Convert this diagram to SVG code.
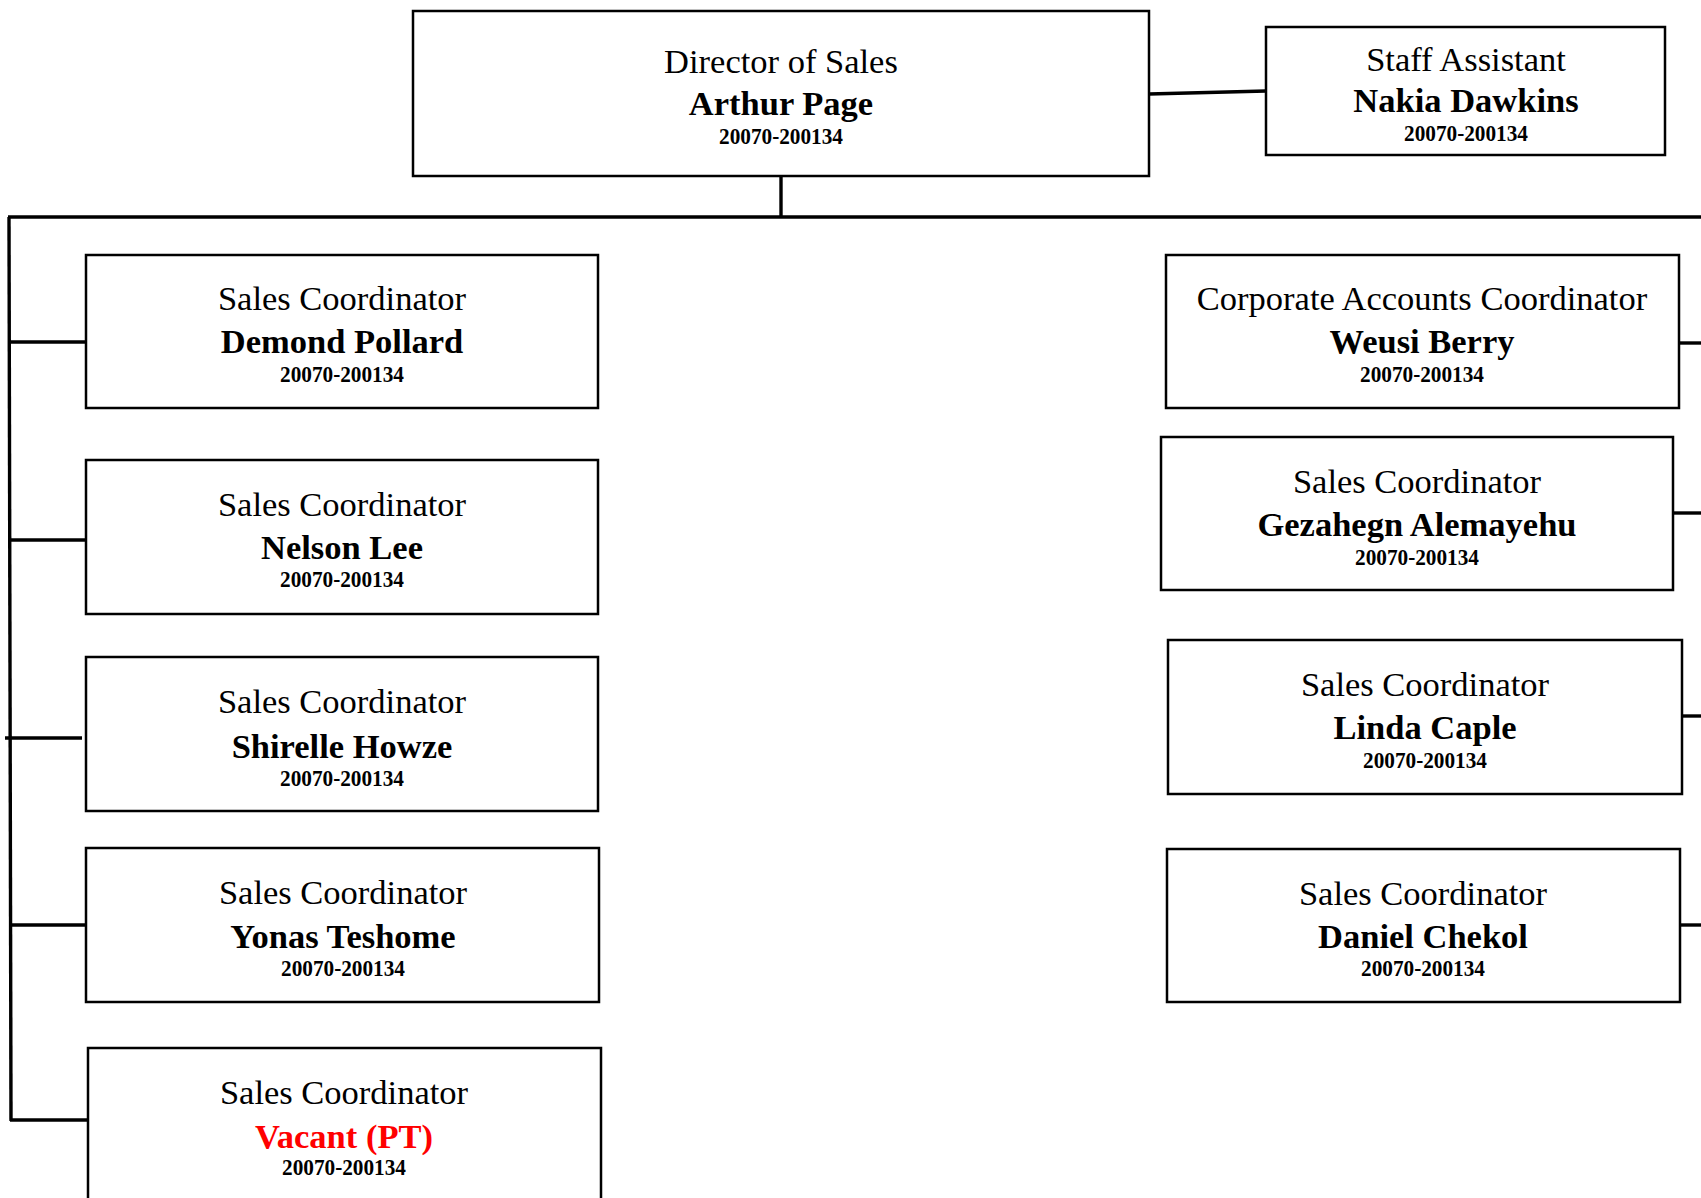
<svg xmlns="http://www.w3.org/2000/svg" width="1701" height="1198" viewBox="0 0 1701 1198">
<style>
.box{fill:#fff;stroke:#000;stroke-width:2.5}
.con{stroke:#000;stroke-width:3.4;fill:none}
text{font-family:"Liberation Serif","Times New Roman",serif;text-anchor:middle;fill:#000}
.t{font-size:34.5px}
.n{font-size:34.5px;font-weight:bold}
.id{font-size:24px;font-weight:bold}
.red{fill:#f00}
</style>
<rect width="1701" height="1198" fill="#fff"/>
<g id="connectors">
<line class="con" x1="1149" y1="94" x2="1266" y2="91"/>
<line class="con" x1="781" y1="176" x2="781" y2="217"/>
<line class="con" x1="8" y1="217" x2="1701" y2="217"/>
<line class="con" x1="9" y1="217" x2="11" y2="1121"/>
<line class="con" x1="9" y1="342" x2="86" y2="342"/>
<line class="con" x1="9" y1="540" x2="86" y2="540"/>
<line class="con" x1="5" y1="738" x2="82" y2="738"/>
<line class="con" x1="10" y1="925" x2="86" y2="925"/>
<line class="con" x1="10" y1="1120" x2="88" y2="1120"/>
<line class="con" x1="1679" y1="343" x2="1701" y2="343"/>
<line class="con" x1="1673" y1="513" x2="1701" y2="513"/>
<line class="con" x1="1682" y1="716" x2="1701" y2="716"/>
<line class="con" x1="1680" y1="925" x2="1701" y2="925"/>
</g>
<g id="director">
<rect class="box" x="413" y="11" width="736" height="165"/>
<text class="t" x="781" y="73">Director of Sales</text>
<text class="n" x="781" y="115">Arthur Page</text>
<text class="id" x="781" y="144" textLength="124" lengthAdjust="spacingAndGlyphs">20070-200134</text>
</g>
<g id="staff-assistant">
<rect class="box" x="1266" y="27" width="399" height="128"/>
<text class="t" x="1466" y="71">Staff Assistant</text>
<text class="n" x="1466" y="112">Nakia Dawkins</text>
<text class="id" x="1466" y="141" textLength="124" lengthAdjust="spacingAndGlyphs">20070-200134</text>
</g>
<g id="demond-pollard">
<rect class="box" x="86" y="255" width="512" height="153"/>
<text class="t" x="342" y="310">Sales Coordinator</text>
<text class="n" x="342" y="353">Demond Pollard</text>
<text class="id" x="342" y="382" textLength="124" lengthAdjust="spacingAndGlyphs">20070-200134</text>
</g>
<g id="nelson-lee">
<rect class="box" x="86" y="460" width="512" height="154"/>
<text class="t" x="342" y="516">Sales Coordinator</text>
<text class="n" x="342" y="559">Nelson Lee</text>
<text class="id" x="342" y="587" textLength="124" lengthAdjust="spacingAndGlyphs">20070-200134</text>
</g>
<g id="shirelle-howze">
<rect class="box" x="86" y="657" width="512" height="154"/>
<text class="t" x="342" y="713">Sales Coordinator</text>
<text class="n" x="342" y="758">Shirelle Howze</text>
<text class="id" x="342" y="786" textLength="124" lengthAdjust="spacingAndGlyphs">20070-200134</text>
</g>
<g id="yonas-teshome">
<rect class="box" x="86" y="848" width="513" height="154"/>
<text class="t" x="343" y="904">Sales Coordinator</text>
<text class="n" x="343" y="948">Yonas Teshome</text>
<text class="id" x="343" y="976" textLength="124" lengthAdjust="spacingAndGlyphs">20070-200134</text>
</g>
<g id="vacant">
<rect class="box" x="88" y="1048" width="513" height="170"/>
<text class="t" x="344" y="1104">Sales Coordinator</text>
<text class="n red" x="344" y="1148">Vacant (PT)</text>
<text class="id" x="344" y="1175" textLength="124" lengthAdjust="spacingAndGlyphs">20070-200134</text>
</g>
<g id="weusi-berry">
<rect class="box" x="1166" y="255" width="513" height="153"/>
<text class="t" x="1422" y="310">Corporate Accounts Coordinator</text>
<text class="n" x="1422" y="353">Weusi Berry</text>
<text class="id" x="1422" y="382" textLength="124" lengthAdjust="spacingAndGlyphs">20070-200134</text>
</g>
<g id="gezahegn-alemayehu">
<rect class="box" x="1161" y="437" width="512" height="153"/>
<text class="t" x="1417" y="493">Sales Coordinator</text>
<text class="n" x="1417" y="536">Gezahegn Alemayehu</text>
<text class="id" x="1417" y="565" textLength="124" lengthAdjust="spacingAndGlyphs">20070-200134</text>
</g>
<g id="linda-caple">
<rect class="box" x="1168" y="640" width="514" height="154"/>
<text class="t" x="1425" y="696">Sales Coordinator</text>
<text class="n" x="1425" y="739">Linda Caple</text>
<text class="id" x="1425" y="768" textLength="124" lengthAdjust="spacingAndGlyphs">20070-200134</text>
</g>
<g id="daniel-chekol">
<rect class="box" x="1167" y="849" width="513" height="153"/>
<text class="t" x="1423" y="905">Sales Coordinator</text>
<text class="n" x="1423" y="948">Daniel Chekol</text>
<text class="id" x="1423" y="976" textLength="124" lengthAdjust="spacingAndGlyphs">20070-200134</text>
</g>
</svg>
